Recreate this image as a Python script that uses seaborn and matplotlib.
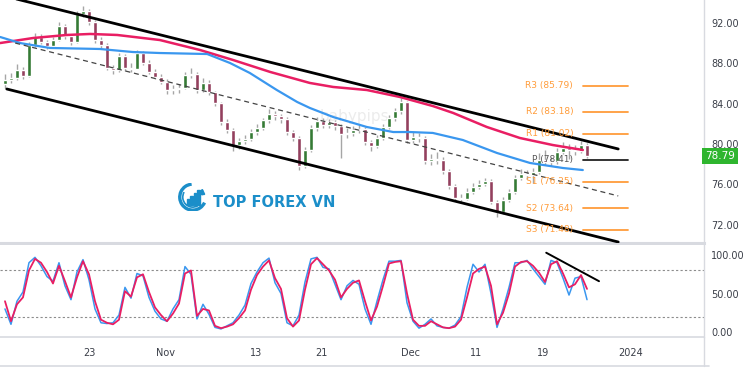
import numpy as np
import pandas as pd
import seaborn as sns
import matplotlib.pyplot as plt
from matplotlib.patches import Arc, Rectangle
from matplotlib.lines import Line2D
import matplotlib.transforms as mtrans

sns.set_style("white")
plt.rcParams['font.family'] = ['DejaVu Sans']

# ---- data (one bar per slot) ----
first_open = 85.90
closes = [86.34, 86.54, 87.34, 86.74, 89.82, 90.61, 90.11, 89.72, 90.31, 91.70,
          90.71, 90.11, 92.89, 93.19, 92.10, 90.31, 89.82, 87.53, 87.34, 88.72,
          87.53, 87.43, 89.02, 88.03, 87.14, 86.64, 86.15, 85.35, 85.45, 85.55,
          86.84, 86.94, 85.35, 86.05, 85.15, 84.06, 82.18, 81.38, 79.89, 80.29,
          80.49, 81.19, 81.58, 82.37, 82.97, 82.77, 82.47, 81.19, 80.59, 77.81,
          79.40, 81.58, 82.28, 81.88, 82.18, 81.78, 80.99, 81.09, 81.38, 81.48,
          80.19, 79.80, 80.59, 81.68, 82.57, 83.27, 84.16, 80.39, 80.69, 80.59,
          78.31, 78.51, 78.41, 77.32, 75.83, 74.64, 74.54, 75.23, 75.73, 76.03,
          76.32, 74.24, 73.25, 74.44, 75.23, 76.62, 77.02, 76.92, 77.22, 78.41,
          78.21, 78.31, 79.20, 79.60, 79.40, 79.30, 79.89, 78.79]
highs = [86.9, 87.0, 87.9, 87.6, 90.1, 91.0, 90.9, 90.3, 90.6, 92.1,
         91.9, 90.9, 93.2, 93.7, 93.4, 92.3, 90.6, 90.0, 87.8, 89.0,
         88.9, 88.0, 89.3, 89.2, 88.3, 87.4, 86.9, 86.4, 85.8, 85.9,
         87.1, 87.5, 87.1, 86.5, 86.3, 85.3, 84.2, 82.5, 81.6, 80.6,
         80.9, 81.5, 82.0, 82.6, 83.5, 83.3, 83.0, 82.7, 81.4, 80.8,
         79.7, 81.9, 82.7, 82.6, 82.5, 82.4, 82.0, 81.6, 81.8, 81.9,
         81.7, 80.4, 80.9, 82.0, 82.9, 83.6, 84.6, 84.3, 81.2, 81.1,
         80.8, 79.0, 79.2, 78.7, 77.5, 76.0, 75.0, 75.6, 76.1, 76.4,
         76.6, 76.5, 74.4, 74.7, 75.5, 76.9, 77.5, 77.4, 77.6, 79.1,
         79.4, 78.7, 79.6, 80.2, 80.0, 79.9, 80.3, 80.1]
lows = [85.55, 86.0, 86.3, 86.4, 86.6, 89.6, 89.9, 89.4, 89.5, 90.2,
        90.4, 89.8, 90.0, 92.6, 91.8, 90.0, 89.5, 87.3, 86.9, 87.1,
        87.2, 87.1, 87.4, 87.8, 86.9, 86.4, 85.9, 85.0, 85.0, 85.1,
        85.4, 86.5, 85.1, 85.2, 84.9, 83.8, 81.9, 81.1, 79.3, 79.5,
        80.0, 80.3, 80.9, 81.4, 82.1, 82.4, 82.1, 80.9, 80.3, 77.4,
        77.6, 79.2, 81.3, 81.6, 81.6, 81.4, 78.6, 80.6, 80.8, 81.1,
        79.9, 79.3, 79.6, 80.4, 81.5, 82.3, 83.0, 80.1, 80.1, 80.2,
        78.0, 77.9, 78.0, 77.0, 75.5, 74.3, 74.2, 74.4, 75.0, 75.5,
        75.8, 74.0, 72.75, 73.0, 74.2, 75.0, 76.4, 76.5, 76.1, 77.0,
        77.9, 77.8, 78.0, 79.0, 78.5, 78.9, 79.1, 78.6]

# moving averages (bar, price)
ma_slow_bar = [-0.8, 4.7, 10.3, 14.2, 18.7, 25.8, 32.5, 38.0, 44.2, 50.8,
               54.7, 60.3, 65.8, 71.3, 74.7, 80.3, 85.8, 91.3, 96.3]
ma_slow = [90.01, 90.51, 90.81, 90.91, 90.81, 90.31, 89.32, 88.33, 87.14, 86.05,
           85.65, 85.35, 84.66, 83.76, 83.07, 81.68, 80.59, 79.89, 79.40]
ma_fast_bar = [-0.8, 2.5, 7.5, 15.8, 21.3, 25.8, 33.7, 37.5, 40.8, 45.3, 48.7,
               50.8, 54.7, 60.3, 64.7, 67.5, 71.3, 76.3, 82.0, 87.5, 93.0, 96.3]
ma_fast = [90.61, 90.01, 89.52, 89.42, 89.12, 89.02, 88.92, 88.03, 87.04, 85.35, 84.16,
           83.57, 82.67, 81.68, 81.18, 81.18, 81.09, 80.39, 79.10, 78.11, 77.61, 77.41]

# stochastic
stoch_k = [30, 10, 40, 52, 90, 97, 86, 72, 66, 90,
           60, 42, 78, 94, 68, 30, 12, 11, 12, 22,
           58, 44, 76, 73, 45, 27, 17, 14, 30, 42,
           85, 75, 17, 36, 23, 6, 4, 8, 12, 22,
           35, 63, 78, 90, 96, 64, 50, 12, 8, 22,
           65, 95, 97, 84, 82, 62, 42, 60, 67, 62,
           30, 10, 40, 68, 92, 92, 93, 38, 14, 5,
           10, 17, 8, 6, 5, 9, 20, 58, 88, 78,
           88, 50, 6, 30, 58, 90, 90, 93, 82, 72,
           62, 93, 90, 70, 48, 70, 72, 42]
stoch_d = [40, 14, 36, 45, 80, 95, 90, 78, 63, 86,
           66, 45, 71, 92, 75, 40, 16, 12, 10, 16,
           53, 46, 71, 75, 52, 32, 22, 14, 24, 37,
           76, 80, 21, 30, 28, 8, 5, 7, 10, 18,
           28, 55, 74, 85, 93, 70, 56, 18, 7, 15,
           55, 88, 96, 88, 80, 68, 45, 56, 64, 67,
           40, 15, 33, 60, 89, 91, 92, 50, 16, 8,
           8, 14, 10, 6, 5, 7, 16, 45, 76, 82,
           85, 60, 10, 25, 50, 85, 91, 92, 86, 77,
           65, 88, 92, 76, 58, 62, 74, 56]

# trend channel (bar, price)
chan_upper_bar, chan_upper = [-0.8, 102.2], [94.78, 79.50]
chan_lower_bar, chan_lower = [0.3, 102.2], [85.45, 70.27]
chan_mid_bar, chan_mid = [1.7, 102.2], [90.01, 74.84]
stoch_trend_bar, stoch_trend = [90.2, 99.0], [103, 66]

pivot_names = ["R3", "R2", "R1", "P", "S1", "S2", "S3"]
pivot_values = [85.79, 83.18, 81.02, 78.41, 76.25, 73.64, 71.48]

tick_bars = [14.0, 26.8, 41.8, 52.7, 67.5, 78.5, 89.7, 104.2]
tick_labels = ["23", "Nov", "13", "21", "Dec", "11", "19", "2024"]
price_ticks = [72, 76, 80, 84, 88, 92]
stoch_ticks = [0, 50, 100]
last_price = 78.79

# ---- layout ----
UP, DOWN, WICK = "#357a35", "#93405e", "#a6a6a6"
PINK, BLUE = "#e91e63", "#3a97ef"
ORANGE = "#ff9c3a"
GRID = "#d8dae0"
TXT = "#3a3e48"
XMIN, XMAX = -0.83, 116.5

fig = plt.figure(figsize=(7.5, 3.75), dpi=100)
ax = fig.add_axes([0, 0.352, 0.9387, 0.648])
ax2 = fig.add_axes([0, 0.1013, 0.9387, 0.2453])

df = pd.DataFrame({"close": closes, "high": highs, "low": lows})
df["bar"] = np.arange(len(df))
df["open"] = [first_open] + closes[:-1]
df["up"] = df["close"] >= df["open"]

ax.vlines(df["bar"], df["low"], df["high"], color=WICK, lw=1.0, zorder=2)
body_bottom = df[["open", "close"]].min(axis=1)
body_h = (df["close"] - df["open"]).abs().clip(lower=0.08)
ax.bar(df["bar"], body_h, bottom=body_bottom, width=0.6,
       color=np.where(df["up"], UP, DOWN), zorder=3)

sns.lineplot(x=ma_slow_bar, y=ma_slow, ax=ax, color=PINK, lw=1.8, zorder=4)
sns.lineplot(x=ma_fast_bar, y=ma_fast, ax=ax, color=BLUE, lw=1.6, zorder=4)

sns.lineplot(x=chan_upper_bar, y=chan_upper, ax=ax, color="black", lw=2.0, zorder=5)
sns.lineplot(x=chan_lower_bar, y=chan_lower, ax=ax, color="black", lw=2.0, zorder=5)
ax.plot(chan_mid_bar, chan_mid, color="#444444", lw=0.9, ls=(0, (4, 3)), zorder=5)

# pivot levels
for name, val in zip(pivot_names, pivot_values):
    col = "#222222" if name == "P" else ORANGE
    tcol = "#555555" if name == "P" else ORANGE
    ax.plot([96.3, 103.8], [val, val], color=col, lw=1.3, zorder=5)
    ax.text(94.7, val, f"{name} ({val:.2f})", color=tcol, fontsize=6.5,
            ha="right", va="center", zorder=6)

ax.text(0.504, 0.52, "babypips", transform=ax.transAxes, fontsize=11,
        color="#ececec", ha="center", va="center", zorder=1)

ax.set_xlim(XMIN, XMAX)
ax.set_ylim(70.17, 94.28)
ax.set_xticks([])
ax.yaxis.tick_right()
ax.set_yticks(price_ticks)
ax.set_yticklabels([f"{v:.2f}" for v in price_ticks])
ax.tick_params(axis="y", length=0, pad=5, labelsize=7, labelcolor=TXT)

ax.text(1.0015, last_price, f"{last_price:.2f}", color="white", fontsize=7.5,
        transform=mtrans.blended_transform_factory(ax.transAxes, ax.transData),
        ha="left", va="center", zorder=10, clip_on=False,
        bbox=dict(boxstyle="square,pad=0.3", fc="#2eb52e", ec="none"))

# stochastic panel
bars = np.arange(len(stoch_k))
sns.lineplot(x=bars, y=stoch_k, ax=ax2, color=BLUE, lw=1.1, zorder=3)
sns.lineplot(x=bars, y=stoch_d, ax=ax2, color=PINK, lw=1.3, zorder=4)
for lvl in (80, 20):
    ax2.axhline(lvl, color="#8c8c8c", lw=0.8, ls=(0, (2, 2)), zorder=1)
ax2.plot(stoch_trend_bar, stoch_trend, color="black", lw=1.4, zorder=5, clip_on=False)

ax2.set_xlim(XMIN, XMAX)
ax2.set_ylim(-6.5, 113)
ax2.yaxis.tick_right()
ax2.set_yticks(stoch_ticks)
ax2.set_yticklabels([f"{v:.2f}" for v in stoch_ticks])
ax2.tick_params(axis="y", length=0, pad=5, labelsize=7, labelcolor=TXT)
ax2.set_xticks(tick_bars)
ax2.set_xticklabels(tick_labels)
ax2.tick_params(axis="x", length=0, pad=8, labelsize=7, labelcolor=TXT)

for a in (ax, ax2):
    a.spines["left"].set_visible(False)
    a.spines["top"].set_visible(False)
    a.spines["right"].set_color(GRID)
    a.spines["right"].set_linewidth(1)
    a.spines["bottom"].set_color(GRID)
ax.spines["bottom"].set_linewidth(2.2)
ax2.spines["bottom"].set_linewidth(1.2)

fig.add_artist(Line2D([0, 0.945], [0.024, 0.024], color=GRID, lw=1.2))
fig.add_artist(Line2D([0.9387, 0.9387], [0.024, 0.1013], color=GRID, lw=1))

# logo
lg = fig.add_axes([0.237, 0.437, 0.04, 0.0747])
lg.set_xlim(0, 30)
lg.set_ylim(0, 28)
lg.axis("off")
LOGO = "#1b8ec9"
lg.add_patch(Arc((15, 14), 26, 26, theta1=95, theta2=335, lw=2.4, color=LOGO))
lg.add_patch(Arc((15, 14), 20, 20, theta1=150, theta2=300, lw=1.2, color=LOGO))
for bx, bh in zip([9, 12.5, 16, 19.5], [6, 9, 12, 15]):
    lg.add_patch(Rectangle((bx, 6), 2.5, bh, color=LOGO))
lg.annotate("", xy=(24.5, 26), xytext=(24.5, 14),
            arrowprops=dict(arrowstyle="-|>", color=LOGO, lw=1.5, mutation_scale=7))
fig.text(0.284, 0.4613, "TOP FOREX VN", color=LOGO, fontsize=10.5,
         fontweight="bold", ha="left", va="center")

fig.savefig("out.png", dpi=100)
